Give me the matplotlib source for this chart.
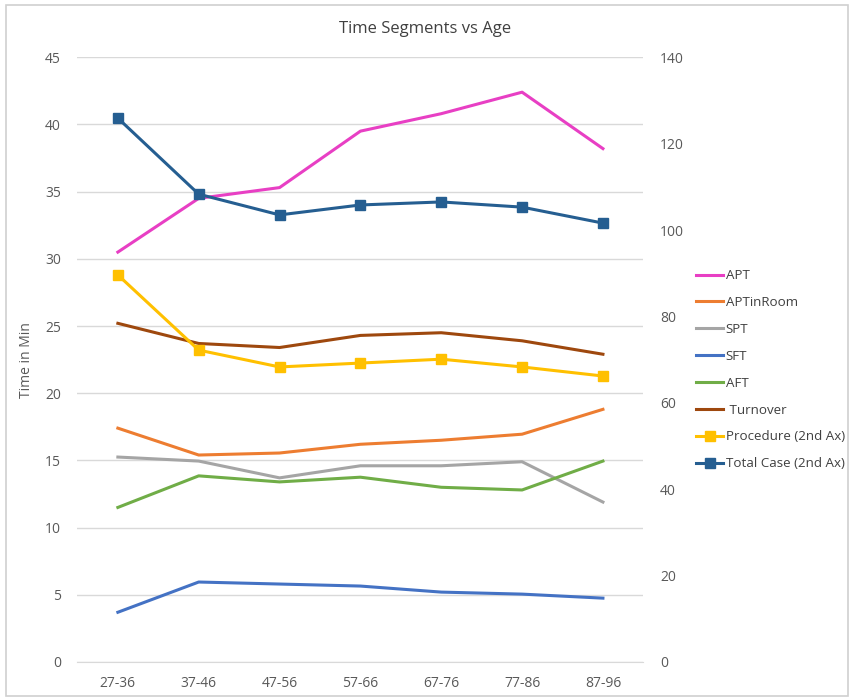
import matplotlib
matplotlib.use("Agg")
import matplotlib.pyplot as plt
from matplotlib.patches import Rectangle

plt.rcParams['font.family'] = ['Open Sans', 'DejaVu Sans']

# age groups and time segments (minutes)
ages = ['27-36', '37-46', '47-56', '57-66', '67-76', '77-86', '87-96']
apt = [30.5, 34.5, 35.3, 39.5, 40.8, 42.4, 38.2]
apt_in_room = [17.4, 15.4, 15.55, 16.2, 16.5, 16.95, 18.8]
spt = [15.25, 14.95, 13.7, 14.6, 14.6, 14.9, 11.9]
sft = [3.7, 5.95, 5.8, 5.65, 5.2, 5.05, 4.75]
aft = [11.5, 13.85, 13.4, 13.75, 13.0, 12.8, 14.95]
turnover = [25.2, 23.7, 23.4, 24.3, 24.5, 23.9, 22.9]
# second axis
procedure = [89.6, 72.2, 68.3, 69.2, 70.1, 68.3, 66.2]
total_case = [125.9, 108.3, 103.5, 105.8, 106.5, 105.3, 101.6]

fig = plt.figure(figsize=(8.51, 6.98), dpi=100)
ax1 = fig.add_axes([0.091, 0.0516, 0.665, 0.8664])
ax2 = ax1.twinx()

x = range(len(ages))
lw = 2.2
ax1.plot(x, apt, color='#E83FC4', lw=lw, label='APT')
ax1.plot(x, apt_in_room, color='#ED7D31', lw=lw, label='APTinRoom')
ax1.plot(x, spt, color='#A5A5A5', lw=lw, label='SPT')
ax1.plot(x, sft, color='#4472C4', lw=lw, label='SFT')
ax1.plot(x, aft, color='#70AD47', lw=lw, label='AFT')
ax1.plot(x, turnover, color='#9E480E', lw=lw, label=' Turnover')
ax2.plot(x, procedure, color='#FFC000', lw=lw, marker='s', ms=7, label='Procedure (2nd Ax)')
ax2.plot(x, total_case, color='#255E91', lw=lw, marker='s', ms=7, label='Total Case (2nd Ax)')

ax1.set_xlim(-0.5, len(ages) - 0.5)
ax1.set_ylim(0, 45)
ax2.set_ylim(0, 140)
ax1.set_yticks(range(0, 46, 5))
ax2.set_yticks(range(0, 141, 20))
ax1.set_xticks(list(x))
ax1.set_xticklabels(ages)

ax1.grid(axis='y', color='#D9D9D9', lw=1)
ax1.set_axisbelow(True)
for a in (ax1, ax2):
    for s in a.spines.values():
        s.set_visible(False)
    a.tick_params(length=0, labelsize=10, colors='#595959', pad=12)
ax1.spines['bottom'].set_visible(True)
ax1.spines['bottom'].set_color('#D9D9D9')
ax1.tick_params(axis='x', pad=10)

ax1.set_ylabel('Time in Min', fontsize=10, color='#595959', labelpad=8)
fig.text(0.5, 0.958, 'Time Segments vs Age', ha='center', va='center',
         fontsize=12, color='#404040')

# legend to the right of the plot
handles = ax1.get_legend_handles_labels()[0] + ax2.get_legend_handles_labels()[0]
labels = [h.get_label() for h in handles]
fig.legend(handles, labels, loc='upper left', bbox_to_anchor=(0.812, 0.622),
           frameon=False, fontsize=9.6, labelcolor='#404040', handlelength=2.0,
           handletextpad=0.2, labelspacing=1.04, borderaxespad=0)

# chart frame
fig.patches.append(Rectangle((0.007, 0.003), 0.99, 0.99, transform=fig.transFigure,
                             fill=False, ec='#D0D0D0', lw=1.2))

fig.savefig('out.png', dpi=100)
